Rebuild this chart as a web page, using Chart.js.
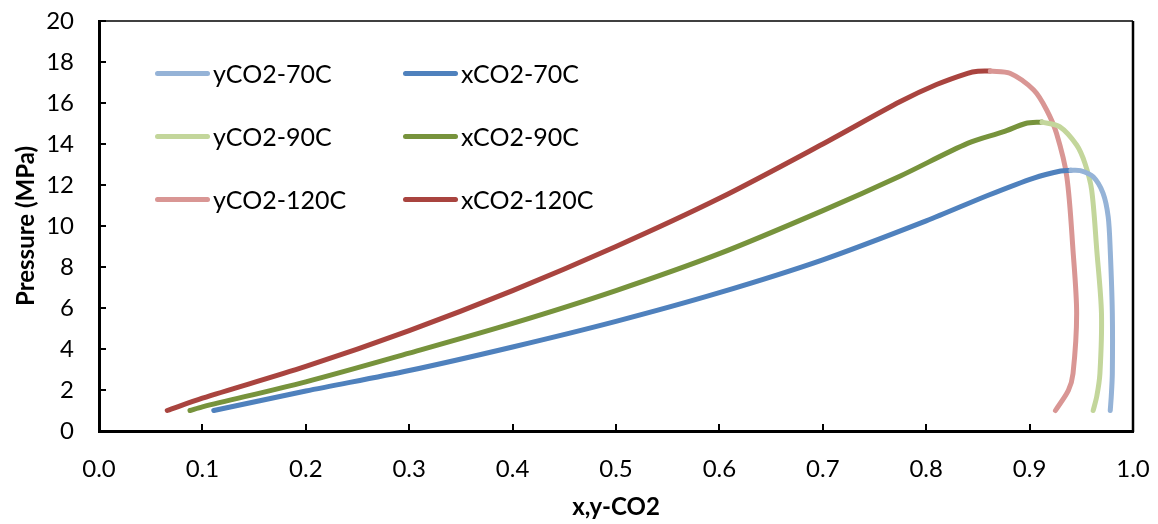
<!DOCTYPE html>
<html><head><meta charset="utf-8">
<script src="https://cdn.jsdelivr.net/npm/chart.js@4"></script>
<style>
html,body{margin:0;padding:0;background:#fff;}
#wrap{position:relative;width:1158px;height:524px;overflow:hidden;}
canvas{position:absolute;left:0;top:0;}
.lg{position:absolute;height:30px;display:flex;align-items:center;font-family:Lato,sans-serif;font-size:25px;color:#000;white-space:nowrap;}
.lg .sw{display:inline-block;width:55px;height:5px;border-radius:3px;margin-right:3px;}
</style></head>
<body><div id="wrap"><canvas id="c" width="1158" height="524"></canvas><div id="legend"></div></div>
<script>
// ---- data ----
const seriesNames = ['yCO2-70C','xCO2-70C','yCO2-90C','xCO2-90C','yCO2-120C','xCO2-120C'];
const seriesColors = ['#95B3D7','#4F81BD','#C3D69B','#77933C','#D99694','#A9443F'];

const y70_x = [0.940,0.949,0.9615,0.971,0.976,0.978,0.980,0.980,0.979,0.978];
const y70_p = [12.72,12.70,12.40,11.60,10.45,8.80,5.75,2.80,1.70,1.00];

const x70_x = [0.111,0.200,0.300,0.400,0.500,0.600,0.700,0.800,0.860,0.904,0.930,0.940];
const x70_p = [1.00,1.95,2.95,4.10,5.35,6.75,8.35,10.25,11.50,12.34,12.68,12.72];

const y90_x = [0.912,0.929,0.9455,0.9535,0.960,0.965,0.9695,0.968,0.965,0.9615];
const y90_p = [15.07,14.85,13.95,13.06,11.76,8.80,5.75,2.80,1.70,1.00];

const x90_x = [0.088,0.100,0.200,0.300,0.400,0.500,0.600,0.700,0.775,0.840,0.875,0.896,0.912];
const x90_p = [1.00,1.18,2.40,3.80,5.25,6.85,8.65,10.75,12.44,14.03,14.60,15.00,15.07];

const y120_x = [0.862,0.881,0.904,0.9165,0.926,0.936,0.942,0.9455,0.942,0.9375,0.925];
const y120_p = [17.56,17.45,16.63,15.66,14.52,12.40,8.80,5.74,2.80,1.98,1.00];

const x120_x = [0.066,0.100,0.200,0.300,0.400,0.500,0.600,0.700,0.775,0.810,0.840,0.850,0.862];
const x120_p = [1.00,1.60,3.15,4.90,6.85,9.00,11.35,14.00,16.07,16.90,17.45,17.55,17.56];

const xTickMin = 0, xTickMax = 1, xTickStep = 0.1;
const yTickMin = 0, yTickMax = 20, yTickStep = 2;
const xTitle = 'x,y-CO2';
const yTitle = 'Pressure (MPa)';

// ---- build ----
const xs = [y70_x,x70_x,y90_x,x90_x,y120_x,x120_x];
const ps = [y70_p,x70_p,y90_p,x90_p,y120_p,x120_p];
const pts = (a,b)=>a.map((v,i)=>({x:v,y:b[i]}));

const datasets = seriesNames.map((n,i)=>({
  label:n, data:pts(xs[i],ps[i]), borderColor:seriesColors[i], backgroundColor:seriesColors[i],
  showLine:true, pointRadius:0, borderWidth:5, tension:0.3, fill:false,
  borderCapStyle:'round', borderJoinStyle:'round'
}));

const frame = {
  id:'frame',
  beforeDatasetsDraw(chart){
    const {ctx, chartArea:a, scales:{x,y}} = chart;
    ctx.save();
    ctx.strokeStyle='#000';
    ctx.lineWidth=2;
    ctx.beginPath();
    x.ticks.forEach((t,i)=>{ const px=Math.round(x.getPixelForTick(i)); if(i===0) return; ctx.moveTo(px,a.bottom); ctx.lineTo(px,a.bottom-7); });
    y.ticks.forEach((t,i)=>{ const py=Math.round(y.getPixelForTick(i)); if(i===0) return; ctx.moveTo(a.left,py); ctx.lineTo(a.left+7,py); });
    ctx.stroke();
    ctx.lineWidth=1.5;
    ctx.beginPath(); ctx.moveTo(a.left,a.top); ctx.lineTo(a.right,a.top); ctx.stroke();
    ctx.lineWidth=2.5;
    ctx.beginPath(); ctx.moveTo(a.right,a.top); ctx.lineTo(a.right,a.bottom+1); ctx.stroke();
    ctx.restore();
  }
};

const tickFont = {family:'Lato', size:24};
const titleFont = {family:'Lato', size:24, weight:'bold'};

new Chart(document.getElementById('c'), {
  type:'scatter',
  data:{datasets},
  options:{
    responsive:false, animation:false, devicePixelRatio:1,
    layout:{padding:{top:21,right:25,left:0,bottom:0}},
    plugins:{legend:{display:false}, tooltip:{enabled:false}},
    scales:{
      x:{type:'linear', min:xTickMin, max:xTickMax,
         ticks:{stepSize:xTickStep, callback:v=>Number(v).toFixed(1), font:tickFont, color:'#000', padding:0, maxRotation:0, autoSkip:false},
         grid:{display:false, drawTicks:true, tickLength:24},
         border:{display:true, color:'#000', width:3},
         title:{display:true, text:xTitle, font:titleFont, color:'#000', padding:{top:0,bottom:2}},
         afterFit(s){ s.height=93; }},
      y:{type:'linear', min:yTickMin, max:yTickMax,
         ticks:{stepSize:yTickStep, font:tickFont, color:'#000', padding:0},
         grid:{display:false, drawTicks:true, tickLength:25},
         border:{display:true, color:'#000', width:3},
         title:{display:true, text:yTitle, font:titleFont, color:'#000', padding:{top:12,bottom:0}},
         afterFit(s){ s.width=99; }}
    }
  },
  plugins:[frame]
});

// HTML legend built from the series
const lgPos = [[155,73],[403,73],[155,136],[403,136],[155,199],[403,199]];
const lg = document.getElementById('legend');
seriesNames.forEach((n,i)=>{
  const d=document.createElement('div'); d.className='lg';
  d.style.left=lgPos[i][0]+'px'; d.style.top=(lgPos[i][1]-15)+'px';
  const s=document.createElement('span'); s.className='sw'; s.style.background=seriesColors[i];
  d.appendChild(s); d.appendChild(document.createTextNode(n));
  lg.appendChild(d);
});
</script>
</body></html>
